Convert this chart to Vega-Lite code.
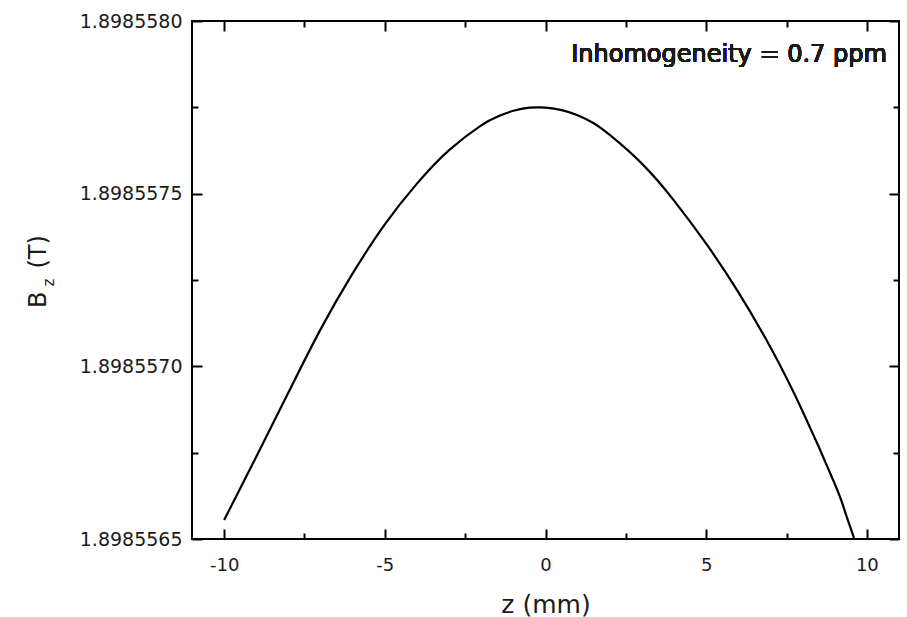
{
  "$schema": "https://vega.github.io/schema/vega-lite/v6.json",
  "width": 707,
  "height": 518,
  "autosize": {"type": "none"},
  "padding": {"left": 192, "top": 21, "right": 8, "bottom": 78},
  "background": "#ffffff",
  "config": {
    "view": {"stroke": "#000000", "strokeWidth": 2},
    "font": "DejaVu Sans",
    "axis": {
      "domain": false,
      "grid": false,
      "tickColor": "#000000",
      "tickWidth": 2,
      "labelFont": "DejaVu Sans",
      "labelColor": "#1a1a1a",
      "titleFont": "DejaVu Sans",
      "titleColor": "#1a1a1a",
      "titleFontWeight": "normal"
    }
  },
  "data": {
    "values": [
      {"z": -10.0, "B": 1.898556555},
      {"z": -9.0, "B": 1.898556738},
      {"z": -8.0, "B": 1.898556924},
      {"z": -7.0, "B": 1.898557107},
      {"z": -6.0, "B": 1.898557269},
      {"z": -5.0, "B": 1.898557411},
      {"z": -4.0, "B": 1.898557529},
      {"z": -3.0, "B": 1.898557626},
      {"z": -2.0, "B": 1.898557698},
      {"z": -1.5, "B": 1.898557723},
      {"z": -1.0, "B": 1.89855774},
      {"z": -0.5, "B": 1.898557749},
      {"z": -0.2, "B": 1.89855775},
      {"z": 0.0, "B": 1.898557749},
      {"z": 0.5, "B": 1.898557742},
      {"z": 1.0, "B": 1.898557727},
      {"z": 1.5, "B": 1.898557704},
      {"z": 2.0, "B": 1.89855767},
      {"z": 3.0, "B": 1.898557587},
      {"z": 4.0, "B": 1.89855748},
      {"z": 5.0, "B": 1.898557355},
      {"z": 6.0, "B": 1.898557215},
      {"z": 7.0, "B": 1.898557055},
      {"z": 8.0, "B": 1.89855687},
      {"z": 9.0, "B": 1.89855666},
      {"z": 9.3, "B": 1.898556585},
      {"z": 9.6, "B": 1.898556503}
    ]
  },
  "resolve": {"axis": {"x": "independent", "y": "independent"}},
  "layer": [
    {
      "mark": {"type": "line", "color": "#000000", "strokeWidth": 2.2, "interpolate": "natural", "clip": true},
      "encoding": {
        "x": {
          "field": "z", "type": "quantitative",
          "scale": {"domain": [-11, 11], "nice": false, "zero": false},
          "axis": {
            "orient": "bottom",
            "values": [-10, -5, 0, 5, 10],
            "labelExpr": "toString(datum.value)",
            "tickSize": -10,
            "labelPadding": 27,
            "labelFontSize": 18,
            "title": "z (mm)",
            "titleFontSize": 25,
            "titleBaseline": "alphabetic",
            "titleY": 73
          }
        },
        "y": {
          "field": "B", "type": "quantitative",
          "scale": {"domain": [1.8985565, 1.898558], "nice": false, "zero": false},
          "axis": {
            "orient": "left",
            "values": [1.8985565, 1.898557, 1.8985575, 1.898558],
            "format": ".7f",
            "tickSize": -10,
            "labelPadding": 20,
            "labelFontSize": 19,
            "title": "B\u00a0\u00a0\u00a0(T)",
            "titleFontSize": 24,
            "titleAngle": -90,
            "titleAlign": "center",
            "titleBaseline": "alphabetic",
            "titleX": -147,
            "titleY": 250
          }
        }
      }
    },
    {
      "mark": {"type": "line", "opacity": 0},
      "encoding": {
        "x": {
          "field": "z", "type": "quantitative",
          "axis": {"orient": "bottom", "values": [-7.5, -2.5, 2.5, 7.5], "labels": false, "tickSize": -6, "title": null}
        },
        "y": {
          "field": "B", "type": "quantitative",
          "axis": {
            "orient": "left",
            "values": [1.89855675, 1.89855725, 1.89855775],
            "labels": false,
            "tickSize": -6,
            "title": "z",
            "titleFontSize": 15,
            "titleAngle": -90,
            "titleAlign": "center",
            "titleBaseline": "alphabetic",
            "titleX": -139,
            "titleY": 261
          }
        }
      }
    },
    {
      "mark": {"type": "line", "opacity": 0},
      "encoding": {
        "x": {
          "field": "z", "type": "quantitative",
          "axis": {"orient": "top", "values": [-10, -5, 0, 5, 10], "labels": false, "tickSize": -10, "title": null}
        },
        "y": {
          "field": "B", "type": "quantitative",
          "axis": {"orient": "right", "values": [1.8985565, 1.898557, 1.8985575, 1.898558], "labels": false, "tickSize": -10, "title": null}
        }
      }
    },
    {
      "mark": {"type": "line", "opacity": 0},
      "encoding": {
        "x": {
          "field": "z", "type": "quantitative",
          "axis": {"orient": "top", "values": [-7.5, -2.5, 2.5, 7.5], "labels": false, "tickSize": -6, "title": null}
        },
        "y": {
          "field": "B", "type": "quantitative",
          "axis": {"orient": "right", "values": [1.89855675, 1.89855725, 1.89855775], "labels": false, "tickSize": -6, "title": null}
        }
      }
    },
    {
      "mark": {"type": "text", "align": "right", "baseline": "alphabetic", "fontSize": 24, "font": "DejaVu Sans", "color": "#1a1a1a"},
      "encoding": {
        "x": {"datum": 10.62, "type": "quantitative", "axis": null},
        "y": {"datum": 1.89855788, "type": "quantitative", "axis": null},
        "text": {"value": "Inhomogeneity = 0.7 ppm"}
      }
    }
  ]
}
